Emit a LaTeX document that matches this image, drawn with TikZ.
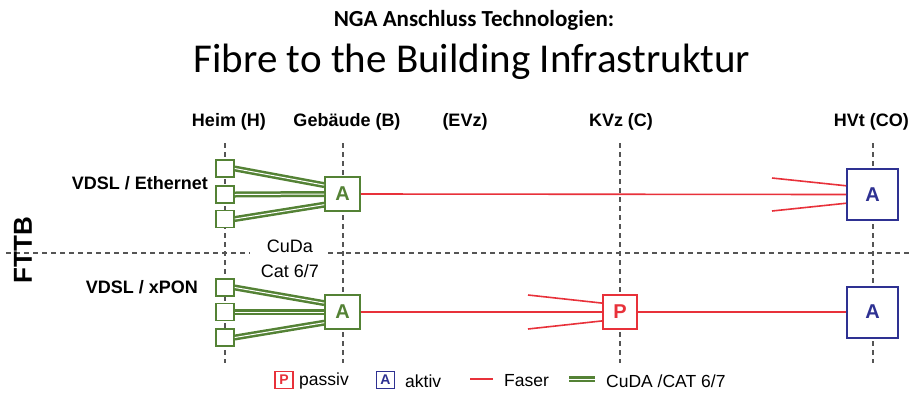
\documentclass[tikz,border=0pt]{standalone}
\usepackage{fontspec}
\setmainfont{Liberation Sans}
\newfontfamily\carlito{Carlito}
\usetikzlibrary{calc}
\definecolor{cugreen}{HTML}{548235}
\definecolor{fred}{HTML}{E8313A}
\definecolor{ablue}{HTML}{2E3192}
\definecolor{dgray}{HTML}{555555}
\tikzset{
  guide/.style={draw=dgray, line width=1.2pt, dash pattern=on 5pt off 4pt},
  hbox/.style={draw=cugreen, fill=white, line width=1.5pt, minimum width=18pt, minimum height=17pt, inner sep=0pt},
  gbox/.style={draw=cugreen, fill=white, line width=1.6pt, minimum width=35pt, minimum height=34pt, inner sep=0pt, text=cugreen, font=\bfseries\fontsize{20}{20}\selectfont},
  pbox/.style={draw=fred, fill=white, line width=1.6pt, minimum width=34pt, minimum height=34pt, inner sep=0pt, text=fred, font=\bfseries\fontsize{20}{20}\selectfont},
  bbox/.style={draw=ablue, fill=white, line width=2pt, minimum width=51pt, minimum height=51pt, inner sep=0pt, text=ablue, font=\bfseries\fontsize{20}{20}\selectfont},
  cu/.style={draw=cugreen, line width=2.5pt, double=white, double distance=1pt},
  fiber/.style={draw=fred, line width=1.6pt},
  collab/.style={font=\bfseries\fontsize{18}{18}\selectfont, inner sep=0pt},
  lab/.style={font=\fontsize{17.5}{17.5}\selectfont, inner sep=0pt},
  blab/.style={font=\bfseries\fontsize{18}{18}\selectfont, inner sep=0pt},
  legbox/.style={line width=1.5pt, fill=white, minimum width=18pt, minimum height=17pt, inner sep=0pt, font=\bfseries\fontsize{14}{14}\selectfont},
}
\begin{document}
\begin{tikzpicture}[x=1pt,y=-1pt]
\useasboundingbox (0,0) rectangle (911,392);
% titles
\node[font=\carlito\bfseries\fontsize{23}{23}\selectfont, inner sep=0pt] (t1) at (474,20) {NGA Anschluss Technologien:};
\node[font=\carlito\fontsize{41}{41}\selectfont, inner sep=0pt] (t2) at (472,62) {Fibre to the Building Infrastruktur};
% column labels
\node[collab] (cH) at (229,122) {Heim (H)};
\node[collab] (cB) at (347,122) {Gebäude (B)};
\node[collab] (cE) at (465,122) {(EVz)};
\node[collab] (cC) at (621,122) {KVz (C)};
\node[collab, anchor=east] (cCO) at (909,122) {HVt (CO)};
% guides
\coordinate (gH1) at (225,143); \coordinate (gH2) at (225,363);
\coordinate (gB1) at (343,143); \coordinate (gB2) at (343,363);
\coordinate (gC1) at (620,143); \coordinate (gC2) at (620,363);
\coordinate (gO1) at (873,143); \coordinate (gO2) at (873,363);
\coordinate (gL1) at (6,253); \coordinate (gL2) at (250,253);
\coordinate (gR1) at (328,253); \coordinate (gR2) at (911,253);
\draw[guide] (gH1) -- (gH2);
\draw[guide] (gB1) -- (gB2);
\draw[guide] (gC1) -- (gC2);
\draw[guide] (gO1) -- (gO2);
\draw[guide] (gL1) -- (gL2);
\draw[guide] (gR1) -- (gR2);
% side labels
\node[blab, rotate=90, font=\bfseries\fontsize{26}{26}\selectfont] (fttb) at (23,250) {FTTB};
\node[blab, anchor=east] (l1) at (208,183) {VDSL / Ethernet};
\node[blab, anchor=east] (l2) at (198,287) {VDSL / xPON};
\node[lab, font=\fontsize{18}{18}\selectfont] (cuda1) at (290,246) {CuDa};
\node[lab, font=\fontsize{18}{18}\selectfont] (cuda2) at (290,271) {Cat 6/7};
% top row
\node[hbox] (h1) at (225,168.5) {};
\node[hbox] (h2) at (225,194.5) {};
\node[hbox] (h3) at (225,219) {};
\node[gbox] (a1) at (342.5,194) {A};
\node[bbox] (o1) at (872.5,194.5) {A};
\draw[cu] (h1.east) -- ($(a1.west)!0.5!(a1.north west)$);
\draw[cu] (h2.east) -- (a1.west);
\draw[cu] (h3.east) -- ($(a1.west)!0.6!(a1.south west)$);
\coordinate (f1) at (772,178);
\coordinate (f2) at (772,211);
\draw[fiber] (a1.east) -- (o1.west);
\draw[fiber] (f1) -- ($(o1.west)!0.33!(o1.north west)$);
\draw[fiber] (f2) -- ($(o1.west)!0.33!(o1.south west)$);
% bottom row
\node[hbox] (h4) at (225,287.5) {};
\node[hbox] (h5) at (225,312) {};
\node[hbox] (h6) at (225,337.5) {};
\node[gbox] (a2) at (342.5,312) {A};
\node[pbox] (p1) at (620,312) {P};
\node[bbox] (o2) at (872.5,312) {A};
\draw[cu] (h4.east) -- ($(a2.west)!0.5!(a2.north west)$);
\draw[cu] (h5.east) -- (a2.west);
\draw[cu] (h6.east) -- ($(a2.west)!0.6!(a2.south west)$);
\coordinate (f3) at (528,295);
\coordinate (f4) at (528,329);
\draw[fiber] (a2.east) -- (p1.west);
\draw[fiber] (f3) -- ($(p1.west)!0.5!(p1.north west)$);
\draw[fiber] (f4) -- ($(p1.west)!0.5!(p1.south west)$);
\draw[fiber] (p1.east) -- (o2.west);
% legend
\node[legbox, draw=fred, text=fred] (lp) at (284,380) {P};
\node[lab, anchor=west] (lpt) at (299,381) {passiv};
\node[legbox, draw=ablue, text=ablue] (la) at (385.5,380) {A};
\node[lab, anchor=west] (lat) at (405,381) {aktiv};
\coordinate (lf1) at (470,379); \coordinate (lf2) at (493,379);
\draw[fiber] (lf1) -- (lf2);
\node[lab, anchor=west] (lft) at (504,381) {Faser};
\coordinate (lc1) at (569,379); \coordinate (lc2) at (595,379);
\draw[cu] (lc1) -- (lc2);
\node[lab, anchor=west] (lct) at (606,381) {CuDA /CAT 6/7};
\end{tikzpicture}
\end{document}
